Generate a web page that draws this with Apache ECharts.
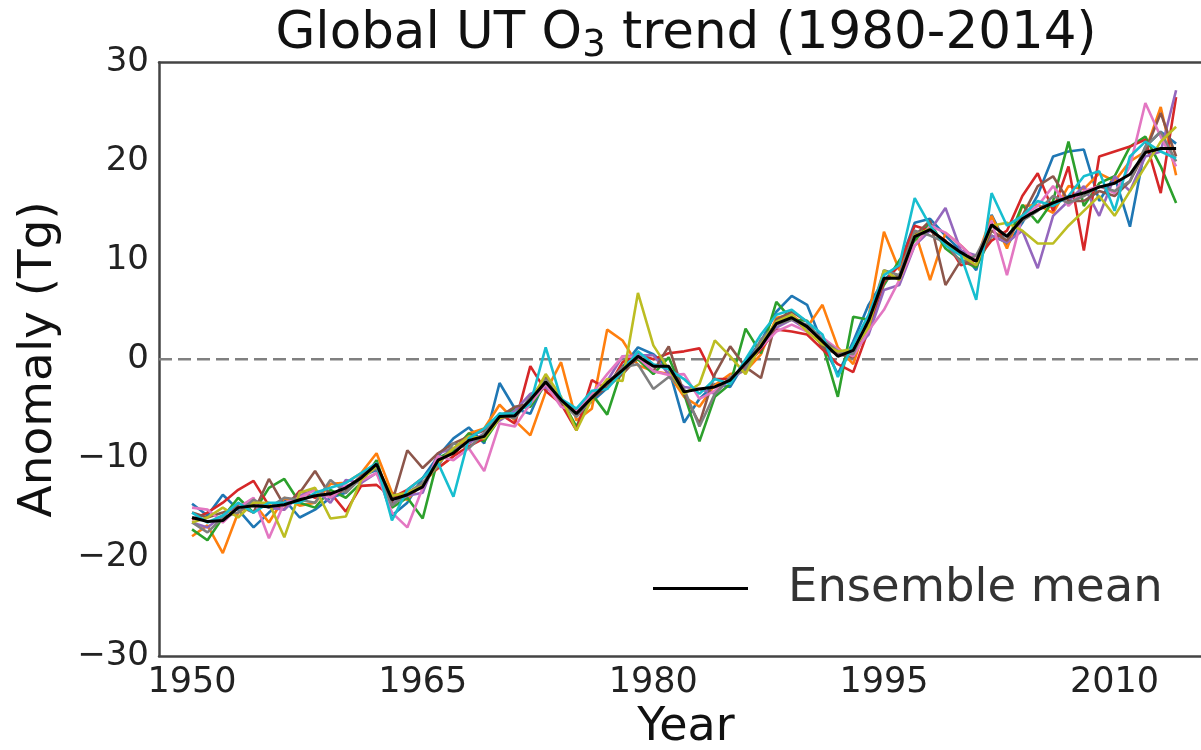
<!DOCTYPE html>
<html>
<head>
<meta charset="utf-8">
<title>Global UT O3 trend</title>
<script src="https://cdn.jsdelivr.net/npm/echarts@6/dist/echarts.min.js"></script>
<style>
  html, body { margin: 0; padding: 0; background: #ffffff; }
  #chart { width: 1201px; height: 750px; }
</style>
</head>
<body>
<div id="chart"></div>
<script>
// Years covered by every run
const firstYear = 1950;
const lastYear = 2014;

// Axis tick labels
const xTicks = [1950, 1965, 1980, 1995, 2010];
const yTicks = [-30, -20, -10, 0, 10, 20, 30];

// Ensemble members (Tg anomaly, 1950-2014)
const member1 = [-14.6, -15.8, -13.7, -15.2, -17.0, -15.5, -14.2, -16.0, -15.2, -14.0, -13.5, -11.8, -11.2, -15.8, -14.5, -12.0, -9.8, -8.0, -6.9, -8.5, -2.4, -5.0, -5.5, -2.0, -4.6, -5.2, -4.3, -2.9, -0.8, 1.2, 0.5, -0.9, -6.4, -4.0, -2.5, -2.8, -0.2, 1.8, 4.8, 6.4, 5.5, 1.6, -1.5, 1.8, 5.5, 8.0, 9.5, 13.8, 14.2, 12.5, 11.0, 9.0, 14.6, 11.5, 13.8, 16.6, 20.5, 21.0, 21.2, 16.0, 18.5, 13.4, 21.5, 23.0, 21.8];
const member2 = [-17.9, -16.8, -19.6, -15.5, -14.5, -16.5, -14.0, -14.8, -14.5, -12.6, -12.5, -11.5, -9.5, -13.5, -14.2, -12.5, -11.0, -9.8, -7.5, -7.0, -4.6, -6.2, -7.7, -3.3, -0.3, -6.2, -5.0, 3.0, 1.9, -0.6, -1.2, -1.5, -3.8, -4.8, -2.6, -1.5, -1.2, 0.5, 4.2, 4.5, 3.2, 5.5, 1.2, -0.5, 4.3, 12.9, 9.0, 13.0, 8.0, 12.8, 11.5, 10.0, 14.5, 11.2, 15.5, 15.6, 14.8, 17.5, 17.2, 18.8, 18.0, 20.0, 21.0, 25.5, 18.6];
const member3 = [-17.2, -18.3, -16.0, -14.0, -15.5, -13.0, -12.1, -14.5, -15.0, -13.2, -14.0, -12.5, -10.2, -15.0, -14.0, -16.1, -10.0, -9.2, -7.5, -8.3, -6.0, -5.0, -4.8, -2.5, -4.0, -6.8, -3.5, -5.6, -0.8, 0.0, -1.5, 0.2, -3.5, -8.3, -3.8, -2.5, 3.1, 0.6, 5.8, 4.0, 3.9, 1.5, -3.8, 4.3, 4.0, 7.5, 10.0, 12.0, 13.8, 11.2, 10.0, 9.3, 12.5, 11.8, 15.6, 13.8, 16.0, 22.0, 15.5, 17.8, 18.5, 21.5, 22.5, 19.5, 15.8];
const member4 = [-16.2, -15.5, -14.5, -13.2, -12.3, -14.8, -15.2, -13.3, -14.0, -13.5, -15.4, -12.8, -12.7, -14.0, -13.2, -12.0, -11.0, -9.8, -8.8, -8.0, -5.5, -6.5, -0.7, -3.2, -4.5, -7.2, -2.1, -3.0, -0.3, 0.5, 0.0, 0.6, 0.8, 1.1, -2.0, -2.0, -0.7, 1.0, 3.0, 2.8, 2.5, 1.0, -0.5, -1.3, 3.0, 7.8, 9.5, 13.5, 13.0, 12.0, 9.5, 10.0, 12.0, 13.0, 16.5, 18.8, 15.0, 19.5, 11.0, 20.5, 21.0, 21.5, 22.2, 16.8, 26.5];
const member5 = [-16.5, -17.0, -15.8, -14.8, -14.5, -15.0, -15.2, -13.8, -13.2, -14.5, -12.2, -12.5, -11.5, -14.6, -13.8, -13.5, -9.5, -9.0, -8.5, -7.5, -6.2, -5.2, -3.5, -2.8, -4.2, -5.8, -4.0, -2.2, 0.3, 0.4, 0.4, -1.5, -2.8, -3.0, -3.5, -2.0, -1.0, 1.5, 3.2, 4.0, 3.0, 2.2, 0.5, 0.8, 2.5, 7.0, 7.5, 11.5, 13.0, 15.3, 11.0, 10.5, 12.5, 11.8, 13.0, 9.2, 14.5, 16.0, 17.5, 14.5, 18.5, 17.0, 20.5, 21.0, 27.2];
const member6 = [-15.5, -16.0, -15.5, -14.8, -15.5, -12.1, -14.8, -13.5, -11.3, -13.8, -13.2, -11.8, -10.5, -14.5, -9.2, -11.0, -9.5, -8.5, -7.8, -7.2, -5.8, -4.8, -4.5, -1.8, -4.5, -5.0, -4.0, -2.8, -1.5, 0.2, -1.2, 1.3, -3.5, -6.5, -1.5, 1.3, -0.8, -1.9, 4.0, 4.8, 3.8, 1.2, 0.5, 0.2, 3.5, 8.0, 8.5, 12.5, 14.0, 7.5, 10.0, 9.5, 13.0, 12.0, 14.5, 17.5, 18.5, 16.0, 16.0, 17.0, 16.5, 18.0, 21.0, 24.9, 20.5];
const member7 = [-15.0, -15.2, -16.5, -15.0, -14.0, -18.1, -14.5, -14.0, -13.2, -14.0, -12.8, -12.3, -11.5, -15.5, -17.0, -13.0, -9.8, -10.2, -9.0, -11.3, -6.5, -6.8, -4.5, -2.5, -4.8, -5.3, -3.5, -1.5, 0.3, 0.2, -1.2, -1.6, -1.5, -4.0, -3.2, -2.0, -0.5, 1.2, 2.8, 3.5, 2.8, 2.2, 1.0, 0.3, 2.9, 5.0, 8.0, 11.5, 13.5, 12.8, 11.5, 10.0, 14.0, 8.5, 14.5, 15.5, 17.5, 15.5, 17.0, 17.5, 16.8, 19.5, 25.9, 22.5, 19.5];
const member8 = [-16.5, -17.5, -16.0, -15.5, -14.2, -15.0, -14.0, -14.2, -14.5, -12.2, -13.5, -12.0, -11.0, -14.8, -13.5, -12.5, -10.8, -8.5, -9.0, -7.5, -5.5, -6.0, -3.8, -2.0, -4.2, -5.8, -3.8, -2.5, -0.8, -0.5, -3.0, -1.8, -3.0, -6.8, -3.5, -1.8, -1.0, 2.0, 3.5, 4.0, 3.5, 2.0, 0.8, 0.5, 4.0, 9.0, 8.5, 13.0, 12.5, 11.8, 9.8, 10.5, 13.5, 12.5, 14.0, 15.0, 16.5, 15.8, 16.5, 17.5, 17.0, 18.0, 21.5, 23.0, 20.0];
const member9 = [-16.5, -16.0, -15.0, -16.0, -14.5, -14.5, -18.0, -13.5, -13.0, -16.1, -15.9, -12.2, -10.8, -13.8, -13.5, -12.8, -10.5, -9.0, -7.8, -8.0, -6.0, -5.5, -4.3, -1.5, -3.8, -7.2, -4.0, -2.0, -2.2, 6.7, 1.4, -1.0, -3.5, -2.5, 1.9, 0.3, -1.5, 1.5, 3.8, 4.5, 2.8, 1.5, 0.8, 1.0, 3.2, 9.0, 8.0, 12.5, 13.2, 11.8, 10.5, 9.5, 13.5, 13.8, 13.0, 11.7, 11.7, 13.5, 15.0, 16.5, 14.5, 17.0, 19.5, 22.0, 23.5];
const member10 = [-15.5, -16.5, -15.8, -14.5, -15.5, -14.5, -14.5, -14.5, -13.5, -13.0, -12.5, -11.5, -10.5, -16.3, -13.2, -12.0, -10.5, -13.9, -8.0, -7.0, -5.5, -5.5, -4.5, 1.2, -4.0, -5.0, -3.2, -3.0, -1.2, 0.8, -0.5, -1.0, -2.0, -3.5, -2.0, -2.5, 0.0, 2.5, 4.5, 5.0, 3.8, 2.5, -1.8, 1.5, 4.5, 8.5, 9.5, 16.3, 13.5, 11.5, 10.5, 6.0, 16.8, 13.5, 14.5, 16.0, 15.5, 16.5, 18.5, 19.0, 15.0, 20.5, 22.0, 21.0, 20.3];

// Ensemble mean (Tg anomaly, 1950-2014)
const ensembleMean = [-16.0, -16.4, -16.3, -15.0, -14.8, -14.9, -14.7, -14.2, -13.8, -13.6, -13.0, -12.0, -10.6, -14.2, -13.7, -12.9, -10.2, -9.5, -8.2, -7.8, -5.8, -5.7, -4.1, -2.3, -4.1, -5.5, -3.9, -2.4, -1.1, 0.3, -0.7, -0.7, -3.3, -3.0, -2.8, -2.1, -0.4, 1.3, 3.6, 4.2, 3.3, 1.8, 0.3, 0.9, 3.9, 8.2, 8.2, 12.4, 13.1, 11.9, 10.8, 9.9, 13.6, 12.4, 14.2, 15.1, 15.8, 16.4, 16.8, 17.4, 17.8, 18.7, 20.9, 21.3, 21.3];

const members = [member1, member2, member3, member4, member5, member6, member7, member8, member9, member10];
const memberColors = ['#1f77b4', '#ff7f0e', '#2ca02c', '#d62728', '#9467bd',
                      '#8c564b', '#e377c2', '#7f7f7f', '#bcbd22', '#17becf'];

// x range of the axes box
const xMin = 1947.85;
const xMax = 2016.4;

const years = [];
for (let y = firstYear; y <= lastYear; y++) years.push(y);
const pairs = vals => vals.map((v, i) => [years[i], v]);

const FONT = 'DejaVu Sans';
const spine = { show: true, onZero: false, lineStyle: { color: '#444444', width: 2.5 } };

const series = [];

// dashed zero reference line across the whole axes box
series.push({
  name: 'zero',
  type: 'line',
  data: [[xMin, 0], [xMax, 0]],
  symbol: 'none',
  silent: true,
  z: 1,
  lineStyle: { type: [13, 6], color: '#808080', width: 2.6 }
});

members.forEach((vals, i) => {
  series.push({
    name: 'member ' + (i + 1),
    type: 'line',
    data: pairs(vals),
    symbol: 'none',
    silent: true,
    z: 2,
    lineStyle: { width: 2.6, color: memberColors[i] },
    itemStyle: { color: memberColors[i] }
  });
});

series.push({
  name: 'Ensemble mean',
  type: 'line',
  data: pairs(ensembleMean),
  symbol: 'none',
  silent: true,
  z: 5,
  lineStyle: { width: 3, color: '#000000' },
  itemStyle: { color: '#000000' }
});

const chart = echarts.init(document.getElementById('chart'), null, { renderer: 'canvas' });
chart.setOption({
  animation: false,
  backgroundColor: '#ffffff',
  title: {
    text: '{a|Global UT O}{s|3}{a| trend (1980-2014)}',
    left: 681,
    textAlign: 'center',
    top: 0,
    textStyle: {
      fontWeight: 'normal',
      rich: {
        a: { fontFamily: FONT, fontSize: 51.5, fontWeight: 'normal', color: '#111111', lineHeight: 60 },
        s: { fontFamily: FONT, fontSize: 37, fontWeight: 'normal', color: '#111111', lineHeight: 38, verticalAlign: 'bottom' }
      }
    }
  },
  legend: {
    data: ['Ensemble mean'],
    left: 648,
    top: 560,
    icon: 'rect',
    itemWidth: 95,
    itemHeight: 3,
    textStyle: { fontFamily: FONT, fontSize: 46.5, color: '#333333', padding: [0, 0, 0, 35] }
  },
  grid: {
    left: 159, top: 62.5, width: 1054, height: 593.5,
    containLabel: false,
    outerBoundsMode: 'none'
  },
  xAxis: [{
    type: 'value',
    min: xMin,
    max: xMax,
    position: 'bottom',
    axisLine: spine,
    axisTick: { show: false },
    splitLine: { show: false },
    axisLabel: {
      customValues: xTicks,
      fontFamily: FONT, fontSize: 35, color: '#222222', margin: 9,
      formatter: v => String(v)
    },
    name: 'Year',
    nameLocation: 'middle',
    nameGap: 47,
    nameTextStyle: { fontFamily: FONT, fontSize: 46, color: '#111111' }
  }, {
    type: 'value',
    min: xMin,
    max: xMax,
    position: 'top',
    axisLine: spine,
    axisTick: { show: false },
    axisLabel: { show: false },
    splitLine: { show: false }
  }],
  yAxis: {
    type: 'value',
    min: -30,
    max: 30,
    interval: 10,
    axisLine: spine,
    axisTick: { show: false },
    splitLine: { show: false },
    axisLabel: {
      customValues: yTicks,
      fontFamily: FONT, fontSize: 34, color: '#222222', margin: 10,
      formatter: v => String(v).replace('-', '\u2212')
    },
    name: 'Anomaly (Tg)',
    nameLocation: 'middle',
    nameGap: 97,
    nameTextStyle: { fontFamily: FONT, fontSize: 47, color: '#111111' }
  },
  series: series
});
</script>
</body>
</html>
